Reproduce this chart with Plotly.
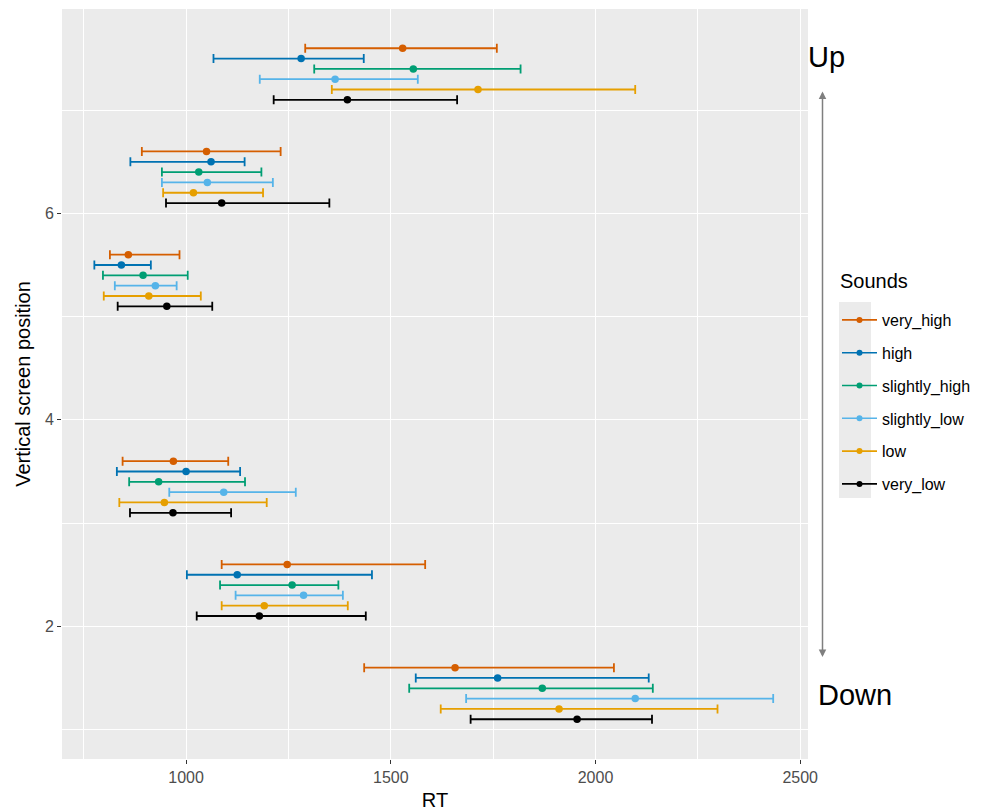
import plotly.graph_objects as go

# Vertical screen positions (base row) and the order of the sound conditions
positions = [1, 2, 3, 5, 6, 7]
sounds = ["very_high", "high", "slightly_high", "slightly_low", "low", "very_low"]
# vertical dodge of each sound inside a position row
dodge = [0.6, 0.5, 0.4, 0.3, 0.2, 0.1]
colors = ["#D55E00", "#0072B2", "#009E73", "#56B4E9", "#E69F00", "#000000"]

# Mean RT per sound, listed by position 1, 2, 3, 5, 6, 7
rt_mean = {
    "very_high":     [1657, 1247, 969, 859, 1050, 1529],
    "high":          [1761, 1125, 1000, 842, 1061, 1281],
    "slightly_high": [1870, 1259, 933, 895, 1031, 1555],
    "slightly_low":  [2097, 1287, 1092, 925, 1052, 1364],
    "low":           [1911, 1191, 947, 909, 1018, 1713],
    "very_low":      [1955, 1179, 968, 953, 1087, 1394],
}
rt_lower = {
    "very_high":     [1435, 1087, 845, 814, 892, 1291],
    "high":          [1561, 1002, 831, 776, 864, 1067],
    "slightly_high": [1545, 1083, 861, 797, 941, 1313],
    "slightly_low":  [1684, 1121, 959, 826, 941, 1180],
    "low":           [1622, 1087, 837, 799, 944, 1356],
    "very_low":      [1695, 1026, 863, 833, 951, 1214],
}
rt_upper = {
    "very_high":     [2045, 1584, 1103, 984, 1231, 1759],
    "high":          [2130, 1454, 1132, 914, 1143, 1434],
    "slightly_high": [2140, 1372, 1144, 1004, 1184, 1817],
    "slightly_low":  [2434, 1383, 1268, 977, 1212, 1566],
    "low":           [2298, 1395, 1197, 1036, 1188, 2097],
    "very_low":      [2138, 1439, 1110, 1064, 1350, 1662],
}

x_ticks = [1000, 1500, 2000, 2500]
y_ticks = [2, 4, 6]

FONT = "Liberation Sans, Arial, Helvetica, sans-serif"

fig = go.Figure()

for s, off, col in zip(sounds, dodge, colors):
    m = rt_mean[s]
    lo = rt_lower[s]
    hi = rt_upper[s]
    fig.add_trace(go.Scatter(
        x=m,
        y=[p + off for p in positions],
        mode="markers",
        marker=dict(color=col, size=7.5),
        error_x=dict(
            type="data", symmetric=False,
            array=[h - v for h, v in zip(hi, m)],
            arrayminus=[v - l for v, l in zip(m, lo)],
            color=col, thickness=1.8, width=4.5,
        ),
        showlegend=False,
    ))
    # legend key: line through a point
    fig.add_trace(go.Scatter(
        x=[None], y=[None], mode="lines+markers", name=s,
        line=dict(color=col, width=1.6),
        marker=dict(color=col, size=6),
        legendgroup=s,
    ))

axis_common = dict(
    showline=False, zeroline=False, automargin=False,
    gridcolor="white", gridwidth=1.1,
    ticks="outside", ticklen=4, tickcolor="#333333", tickwidth=1,
    tickfont=dict(family=FONT, size=16, color="#4D4D4D"),
)

fig.update_xaxes(
    range=[697, 2519], tickvals=x_ticks,
    minor=dict(showgrid=True, gridcolor="white", gridwidth=0.5, dtick=250, tick0=0),
    title=dict(text="RT", font=dict(family=FONT, size=20, color="black"), standoff=9),
    **axis_common,
)
fig.update_yaxes(
    range=[0.715, 7.98], tickvals=y_ticks,
    minor=dict(showgrid=True, gridcolor="white", gridwidth=0.5, dtick=1, tick0=0),
    title=dict(text="Vertical screen position", font=dict(family=FONT, size=20, color="black"), standoff=8),
    **axis_common,
)

W, H = 988, 811
L, R, T, B = 62, 180, 9, 52
pw, ph = W - L - R, H - T - B


def px_x(px):
    return (px - L) / pw


def px_y(py):
    return 1 - (py - T) / ph


# gray background behind legend keys
fig.add_shape(type="rect", xref="paper", yref="paper",
              x0=px_x(839), x1=px_x(871), y0=px_y(498), y1=px_y(302),
              fillcolor="#EBEBEB", line=dict(width=0), layer="below")

fig.add_annotation(text="Sounds", xref="paper", yref="paper", x=px_x(838), y=px_y(281),
                   xanchor="left", yanchor="middle", showarrow=False,
                   font=dict(family=FONT, size=20, color="black"))
fig.add_annotation(text="Up", xref="paper", yref="paper", x=px_x(806), y=px_y(57),
                   xanchor="left", yanchor="middle", showarrow=False,
                   font=dict(family=FONT, size=29, color="black"))
fig.add_annotation(text="Down", xref="paper", yref="paper", x=px_x(816), y=px_y(695),
                   xanchor="left", yanchor="middle", showarrow=False,
                   font=dict(family=FONT, size=29, color="black"))
# double-headed arrow between Up and Down
fig.add_annotation(text="", xref="paper", yref="paper", x=px_x(822.5), y=px_y(657),
                   ax=0, ay=-(657 - 90), showarrow=True, arrowside="end+start",
                   arrowhead=2, arrowsize=1, arrowwidth=1.5, arrowcolor="#7F7F7F")

fig.update_layout(
    width=W, height=H,
    margin=dict(l=L, r=R, t=T, b=B, pad=0, autoexpand=False),
    paper_bgcolor="white", plot_bgcolor="#EBEBEB",
    font=dict(family=FONT, size=16, color="black"),
    legend=dict(
        x=px_x(837), y=px_y(303), xanchor="left", yanchor="top",
        bgcolor="rgba(0,0,0,0)", tracegroupgap=9,
        font=dict(family=FONT, size=16, color="black"),
        itemwidth=35,
    ),
)

fig.write_html("out.html")
